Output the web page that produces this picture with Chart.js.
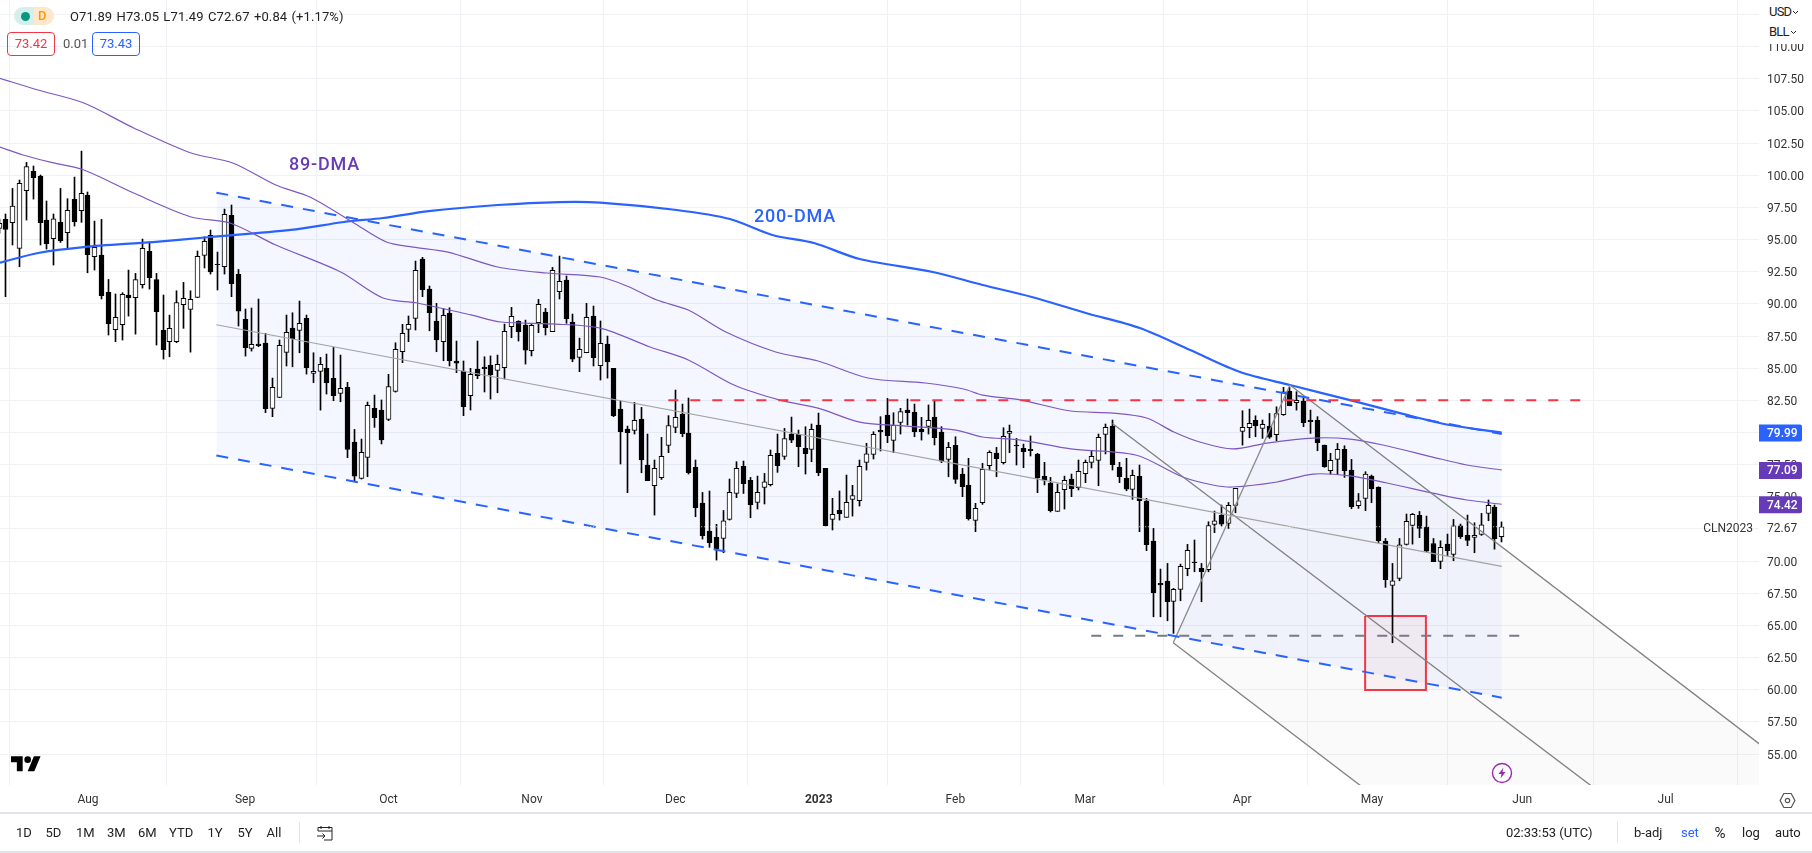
<!DOCTYPE html>
<html><head><meta charset="utf-8">
<script src="https://cdn.jsdelivr.net/npm/chart.js@4"></script>
<style>
html,body{margin:0;padding:0;background:#fff;width:1812px;height:853px;overflow:hidden;font-family:Roboto,sans-serif;color:#131722}
#wrap{position:relative;width:1812px;height:853px}
canvas{position:absolute;left:0;top:0}
.t{position:absolute;white-space:nowrap;font-size:13px;line-height:16px;color:#222}
.sep{position:absolute;background:#e0e3eb;width:1px}
.hl{position:absolute;left:0;width:1812px;height:2px;background:#e0e3eb}
.box{position:absolute;box-sizing:border-box;border-radius:4px;border:1px solid;text-align:center;font-size:13px;line-height:21px}
svg{position:absolute}
</style></head><body><div id="wrap">
<canvas id="c" width="1812" height="853"></canvas>

<div style="position:absolute;left:1759px;top:0;width:53px;height:44px;background:#fff"></div>
<div class="t" style="left:1769px;top:4px;letter-spacing:-.8px">USD</div>
<svg style="left:1792px;top:10px" width="7" height="5" viewBox="0 0 7 5"><path d="M1 1l2.500 2.500L6 1" fill="none" stroke="#222" stroke-width="1"/></svg>
<div class="t" style="left:1769px;top:24px;letter-spacing:-.8px">BLL</div>
<svg style="left:1790px;top:30px" width="7" height="5" viewBox="0 0 7 5"><path d="M1 1l2.500 2.500L6 1" fill="none" stroke="#222" stroke-width="1"/></svg>

<div style="position:absolute;left:14px;top:7px;width:20px;height:18px;background:#d5efeb;border-radius:9px 0 0 9px"></div>
<div style="position:absolute;left:34px;top:7px;width:20px;height:18px;background:#ffe7cc;border-radius:0 9px 9px 0"></div>
<div style="position:absolute;left:21px;top:11.5px;width:9px;height:9px;background:#089981;border-radius:50%"></div>
<div class="t" style="left:38px;top:8px;color:#ff9800;font-weight:500">D</div>
<div class="t" style="left:70px;top:9px;word-spacing:1px;letter-spacing:.1px">O71.89 H73.05 L71.49 C72.67 +0.84 (+1.17%)</div>
<div class="box" style="left:7px;top:32px;width:48px;height:24px;color:#f23645;border-color:#f23645">73.42</div>
<div class="t" style="left:63px;top:36px;color:#555">0.01</div>
<div class="box" style="left:92px;top:32px;width:48px;height:24px;color:#2962ff;border-color:#2962ff">73.43</div>

<div class="t" style="left:289px;top:153px;font-size:18px;line-height:22px;font-weight:500;color:#673ab7;letter-spacing:.8px">89-DMA</div>
<div class="t" style="left:754px;top:205px;font-size:18px;line-height:22px;font-weight:500;color:#2962ff;letter-spacing:.8px">200-DMA</div>

<svg style="left:11px;top:752.7px" width="30" height="23.3" viewBox="0 0 36 28"><path d="M14 22H7V11H0V4h14v18zM28 22h-8l7.5-18h8L28 22z" fill="#000"/><circle cx="20" cy="8" r="4" fill="#000"/></svg>
<svg style="left:1491px;top:762px" width="22" height="22" viewBox="0 0 22 22"><circle cx="11" cy="11" r="9.5" fill="#fff" stroke="#9c27b0" stroke-width="1.4"/><path d="M12.500 5.500 7.500 12h3l-1 4.500 5-6.500h-3z" fill="#9c27b0"/></svg>
<svg style="left:1779px;top:792px" width="17" height="17" viewBox="0 0 17 17"><path d="M4.800 1.500h7.400l3.700 7-3.700 7H4.800l-3.700-7z" fill="none" stroke="#555" stroke-width="1.2"/><circle cx="8.500" cy="8.500" r="2.200" fill="none" stroke="#555" stroke-width="1.2"/></svg>

<div class="hl" style="top:812px"></div>
<div class="hl" style="top:851px"></div>
<div id="toolbar"></div>
<div class="sep" style="left:299px;top:822px;height:21px"></div>
<svg style="left:316px;top:825px" width="18" height="16" viewBox="0 0 18 16"><path d="M2 6V2.500h14V15H8M2 6h14M5 1v3M13 1v3M1 11h8M6.500 8.500 9 11l-2.500 2.500" fill="none" stroke="#222" stroke-width="1"/></svg>
<div class="sep" style="left:1617px;top:822px;height:21px"></div>
</div>
<script>
const open=[95.87,96.57,96.31,94.32,98.80,100.30,99.94,96.52,95.07,96.34,95.53,98.13,97.25,98.44,93.67,93.80,90.89,87.99,88.38,90.69,
90.48,91.49,94.08,91.90,87.94,87.06,87.06,89.94,89.57,90.51,93.77,95.33,93.07,92.89,96.88,92.29,88.79,86.54,86.88,86.95,
81.87,82.73,86.23,88.12,87.94,88.87,84.60,84.75,84.98,84.21,83.04,83.51,79.26,76.43,78.07,81.87,81.75,81.02,83.20,
86.28,88.02,88.87,93.49,91.15,88.67,87.06,89.26,85.56,84.78,82.86,84.93,85.09,85.25,84.83,85.04,88.23,88.64,88.36,86.36,88.54,89.37,87.84,90.95,91.85,88.59,85.84,86.20,89.06,85.19,86.88,
84.99,81.82,80.27,80.17,81.05,77.47,75.86,76.48,79.00,80.40,81.43,79.96,77.29,74.51,72.34,71.84,71.77,73.24,75.26,77.37,76.28,74.57,75.73,75.94,78.38,78.14,
79.88,79.85,78.77,78.69,80.58,77.21,73.24,73.95,73.40,74.80,74.70,77.68,78.30,80.17,81.36,79.39,80.79,81.75,81.59,80.24,80.48,81.20,80.04,77.91,79.00,
76.77,75.92,73.17,74.54,77.42,78.40,77.65,79.93,79.03,78.77,78.69,78.33,76.59,76.07,73.87,75.55,76.38,75.71,76.80,77.68,77.83,79.85,80.50,77.29,76.43,75.58,76.59,74.67,
71.56,68.27,68.45,66.87,67.80,69.41,69.92,69.43,69.33,72.85,73.58,72.93,74.33,80.09,80.37,80.94,80.32,80.50,79.83,81.38,83.20,82.31,82.44,80.97,80.97,79.02,
77.03,77.91,78.69,77.08,74.31,74.88,76.61,75.73,71.56,68.11,68.65,71.30,72.77,73.55,72.67,71.37,69.98,71.32,70.52,72.75,72.00,71.84,72.08,73.71,74.20,71.89];
const high=[96.60,96.99,98.98,99.63,101.00,100.72,100.02,98.00,96.99,98.98,98.18,99.86,101.88,98.70,96.44,96.57,91.90,90.77,90.87,92.63,
92.37,95.04,94.81,92.37,90.69,89.13,91.02,91.67,91.02,94.11,95.22,95.74,94.03,97.37,97.69,92.68,89.60,89.68,90.38,87.71,
84.23,87.19,89.13,89.31,90.22,89.13,86.20,85.84,86.10,86.62,86.02,83.90,80.24,79.49,82.37,82.91,82.53,84.52,86.98,
88.41,89.06,93.33,93.62,91.39,90.04,89.65,89.70,87.11,85.56,84.99,87.11,85.89,85.95,86.02,88.43,89.73,88.69,88.74,88.49,90.35,89.65,92.84,93.72,92.17,89.21,87.34,90.04,89.83,88.67,87.50,
84.99,82.45,80.50,82.34,81.95,79.88,77.86,79.62,81.31,83.30,82.21,82.68,77.86,75.34,75.45,72.86,73.94,76.38,77.73,77.78,76.51,76.61,76.82,78.64,79.88,80.32,
81.20,80.19,80.45,80.66,81.51,77.21,74.88,75.45,76.69,75.89,77.86,79.16,80.06,81.23,82.65,81.54,81.88,82.60,82.21,81.18,82.14,82.47,80.45,79.23,79.67,
77.21,77.99,74.49,77.60,78.58,78.84,80.37,80.58,79.54,79.10,79.73,78.38,77.68,76.51,76.00,76.61,76.77,77.86,77.86,78.56,79.88,80.66,80.97,77.68,77.99,77.08,77.47,74.88,
72.54,69.38,69.82,67.88,69.77,71.30,71.64,69.82,73.06,73.89,74.36,74.56,75.65,81.69,81.82,81.30,80.97,81.48,82.00,83.51,83.51,83.17,82.78,81.74,81.23,79.02,
78.38,79.15,78.97,77.91,75.26,76.95,76.69,75.78,71.76,69.82,71.76,73.66,73.71,73.86,73.50,71.76,71.58,72.10,73.24,72.88,73.58,72.98,73.71,74.75,74.36,73.05];
const low=[95.50,90.56,94.58,92.89,96.52,98.15,94.58,94.26,93.02,94.78,94.37,96.05,96.34,92.42,92.63,90.38,87.58,87.06,87.19,89.05,
87.65,91.23,91.15,86.80,85.71,85.89,86.98,88.10,86.25,90.48,92.79,92.32,91.08,92.32,90.56,88.28,85.94,86.33,86.67,81.54,
81.23,82.70,85.17,85.11,86.20,84.54,83.87,81.74,82.99,82.47,82.39,78.04,76.22,76.38,76.56,80.40,79.11,80.92,83.14,
85.43,87.06,87.97,90.56,87.91,86.28,85.58,85.17,84.65,81.31,81.75,84.18,83.15,82.60,83.09,84.16,87.37,87.11,85.32,85.95,87.76,87.58,87.84,90.38,88.49,85.50,84.73,86.20,85.17,84.08,84.23,
81.23,77.55,75.32,79.88,76.87,76.25,73.58,76.35,78.43,79.98,79.67,76.77,73.45,71.71,71.07,70.08,70.65,73.19,74.93,75.26,73.37,74.05,74.44,75.84,76.90,77.91,
79.21,77.34,76.77,77.73,76.64,72.73,72.42,73.19,73.40,73.50,74.28,77.08,77.94,78.56,79.21,78.43,79.88,80.58,79.67,79.41,79.88,79.03,77.65,76.56,76.04,
75.01,73.19,72.29,74.41,77.08,76.56,77.55,78.43,77.47,77.26,78.17,75.32,75.92,73.82,73.87,74.05,75.01,75.53,76.10,77.24,75.86,78.33,77.08,76.10,75.47,74.80,72.29,70.81,
65.67,65.67,65.36,64.38,66.92,68.86,69.17,66.84,69.17,72.21,72.72,72.54,73.76,79.02,79.59,79.67,79.54,79.54,79.36,81.33,82.08,81.74,80.45,79.93,78.58,77.29,
76.77,76.74,76.51,74.07,74.10,73.92,74.54,71.43,67.96,63.65,68.47,71.25,71.32,71.82,70.73,69.95,69.41,70.42,70.03,71.76,71.20,70.65,72.00,73.14,70.93,71.49];
const close=[96.26,95.79,97.61,99.37,100.67,99.81,96.31,94.68,96.62,94.89,97.27,96.39,98.59,93.82,94.39,90.64,88.46,88.95,90.74,90.48,
91.90,94.32,92.03,89.39,86.44,88.10,90.11,90.43,90.35,93.70,94.86,92.48,93.05,96.96,91.57,89.44,86.59,86.85,86.75,81.85,
83.51,86.77,87.78,87.29,88.48,85.04,84.75,85.30,83.87,82.86,83.43,78.69,76.61,78.46,82.11,81.15,79.42,83.58,86.46,
87.71,88.41,92.61,91.08,89.31,87.19,89.11,85.58,85.40,82.00,84.52,84.41,84.96,84.47,85.30,87.86,89.03,87.84,86.41,88.33,89.96,88.15,92.61,91.75,88.85,85.71,86.46,88.95,85.81,86.93,85.48,
81.31,80.06,79.98,80.94,77.86,76.25,77.21,78.14,80.53,81.18,79.91,76.87,74.15,71.97,71.43,70.94,73.14,75.34,77.21,76.02,74.38,75.34,76.17,78.22,77.42,79.52,
79.41,78.90,78.35,80.24,76.87,72.75,73.63,73.69,74.57,75.09,77.37,78.35,79.85,80.04,79.75,80.55,81.62,81.54,80.06,80.06,80.94,79.60,77.78,78.84,76.36,
75.79,73.30,74.10,77.13,78.46,77.96,79.70,80.09,78.95,78.51,78.59,76.46,76.30,73.92,75.35,76.28,75.63,76.98,77.68,78.14,79.62,80.40,77.50,76.56,75.60,76.67,74.70,71.28,
67.54,68.14,66.84,67.80,69.59,70.83,69.87,69.17,72.77,73.14,72.88,74.33,75.65,80.40,80.71,80.53,80.63,79.64,81.48,83.17,82.08,82.50,80.76,80.84,79.20,77.34,
77.83,78.69,77.03,74.23,74.69,76.77,75.63,71.58,68.55,68.47,71.27,73.09,73.63,72.54,70.78,69.95,71.07,70.81,72.75,71.89,71.61,72.00,72.83,74.33,71.74,72.67];

const ma200Idx=[0.1,5.7,12.4,22.5,30.9,42.7,50.5,56.2,62.9,73,82,88,99.2,107,113.2,119.3,126,136.7,144,151.2,159.1,167,174.4,181.7,189,197.8,205.1,212.4,220];
const ma200Val=[93.2,93.96,94.42,94.81,95.2,95.75,96.37,96.68,97.22,97.69,97.92,97.88,97.3,96.6,95.36,94.73,93.49,92.48,91.47,90.54,89.29,88.12,86.41,84.7,83.69,82.52,81.51,80.58,79.99];
const upperPurpleIdx=[0.1,5.7,12.4,19.7,28.1,34.2,40.5,45.5,51.7,56.7,60.6,65.7,73,80.2,88,91.9,96.3,100.9,106.4,113.7,119.9,127.2,135.6,141.2,144,149.6,156.9,163.1,168,172,175.8,180.6,185.6,192.4,197.8,202.6,209.9,214.9,220];
const upperPurpleVal=[107.54,106.63,105.62,103.68,101.73,100.96,99.24,98.31,96.37,94.81,94.42,94.03,92.87,92.4,92.09,91.39,90.3,89.52,87.81,86.26,85.56,84.24,83.85,83.38,82.91,82.52,81.67,81.51,81.13,80.04,79.26,78.72,79.18,79.57,79.49,79.03,78.09,77.47,77.09];
const lowerPurpleIdx=[0.1,3.5,8,12.4,19.7,28.1,33.8,40.5,50,56.2,61.2,69.1,73.5,80.8,88,95.3,100.9,107.6,114.3,119.9,126,132.8,140.1,144,149.6,156.9,166.4,173.3,177.7,180.6,187.1,192.4,197.8,203.2,209.9,214.9,220];
const lowerPurpleVal=[102.2,101.58,100.96,100.41,98.62,96.76,96.29,94.58,92.48,90.46,90.07,89.14,88.59,88.44,88.12,86.65,85.64,83.69,82.52,81.9,80.81,80.5,80.19,79.65,79.41,78.72,78.25,76.54,75.92,75.76,76.15,76.77,76.62,76.07,75.29,74.75,74.42];

const channelIdx=[31.8,220];
const channelUpper=[98.65,79.88];
const channelMiddle=[88.38,69.59];
const channelLower=[78.21,59.38];
const resistanceIdx=[97.97,231.5], resistanceVal=[82.5,82.5];
const supportIdx=[159.9,222.7], supportVal=[64.2,64.2];
const forkShapeIdx=[171.9,189,263.7,263.7], forkShapeVal=[63.65,83.69,53.36,26.46];
const forkHandleIdx=[171.9,189], forkHandleVal=[63.65,83.69];
const forkUpperIdx=[189,263.7], forkUpperVal=[83.69,53.36];
const forkLowerIdx=[171.9,263.7], forkLowerVal=[63.65,26.46];
const forkMiddleIdx=[163,263.7], forkMiddleVal=[80.7,40.23];
const boxIdx=[200,200,208.9,208.9,200], boxVal=[65.73,59.98,59.98,65.73,65.73];
const lastPrice=72.67;

const monthIdx=[13,36,57,78,99,120,140,159,182,201,223,244];
const monthLabels=['Aug','Sep','Oct','Nov','Dec','2023','Feb','Mar','Apr','May','Jun','Jul'];
const priceTicks=[55,57.5,60,62.5,65,67.5,70,72.5,75,77.5,80,82.5,85,87.5,90,92.5,95,97.5,100,102.5,105,107.5,110,112.5];
const hiddenPriceTicks=[72.5,80];
const tags=[[79.99,'#2962ff'],[77.09,'#673ab7'],[74.42,'#673ab7']];
const rangeButtons=[['1D',16],['5D',45.5],['1M',76],['3M',107],['6M',138],['YTD',169],['1Y',207.5],['5Y',237.5],['All',266.5]];
const rightButtons=[['02:33:53 (UTC)',1506,'#222'],['b-adj',1634,'#222'],['set',1681,'#2962ff'],['%',1714.5,'#222'],['log',1742,'#222'],['auto',1775,'#222']];

const tb=document.getElementById('toolbar');
rangeButtons.concat(rightButtons).forEach(b=>{const d=document.createElement('div');d.className='t';d.textContent=b[0];d.style.left=b[1]+'px';d.style.top='825px';if(b[2])d.style.color=b[2];if(b[0]==='%')d.style.fontSize='15px';tb.appendChild(d);});

const pts=(xs,ys)=>xs.map((x,i)=>({x,y:ys[i]}));
const line=(xs,ys,color,width,extra)=>Object.assign({type:'line',data:pts(xs,ys),borderColor:color,borderWidth:width,pointRadius:0,fill:false,tension:0,order:2},extra||{});
const noPad=a=>{a.paddingTop=0;a.paddingBottom=0;a.paddingLeft=0;a.paddingRight=0;};

const snapBars={id:'snapBars',afterDatasetsUpdate(chart){
  chart.data.datasets.forEach((d,i)=>{ if(d.type!=='bar')return;
    chart.getDatasetMeta(i).data.forEach(el=>{el.x=Math.round(el.x-0.5)+0.5;});
  });
}};
const axisExtras={id:'axisExtras',afterDraw(chart){
  const c=chart.ctx,y=chart.scales.y,r=chart.chartArea.right;
  c.save();c.textBaseline='middle';
  c.font='12px Roboto';c.textAlign='left';c.fillStyle='#333';
  c.fillText(lastPrice.toFixed(2),1767,y.getPixelForValue(lastPrice)+2);
  c.textAlign='right';c.fillText('CLN2023',1753,y.getPixelForValue(lastPrice)+2);
  c.textAlign='left';c.font='500 12px Roboto';
  tags.forEach(([v,col])=>{const py=y.getPixelForValue(v);c.fillStyle=col;c.beginPath();c.roundRect(r,py-8,43,17,[0,2,2,0]);c.fill();c.fillStyle='#fff';c.fillText(v.toFixed(2),1767,py+1.5);});
  c.restore();
}};

new Chart(document.getElementById('c'),{
  data:{datasets:[
    line(channelIdx,channelUpper,'transparent',0,{fill:'+1',backgroundColor:'rgba(41,98,255,0.05)',order:10}),
    line(channelIdx,channelLower,'transparent',0,{order:10}),
    line(forkShapeIdx.concat(forkShapeIdx[0]),forkShapeVal.concat(forkShapeVal[0]),'transparent',0,{fill:'shape',backgroundColor:'rgba(120,123,134,0.04)',order:9}),
    line(boxIdx,boxVal,'#f23645',2,{fill:'shape',backgroundColor:'rgba(242,54,69,0.05)',order:8}),
    {type:'bar',data:open.map((o,i)=>({x:i,y:[low[i],high[i]]})),backgroundColor:'#000',barThickness:1,grouped:false,order:6,borderWidth:0},
    {type:'bar',data:open.map((o,i)=>({x:i,y:[o,close[i]]})),barThickness:5,grouped:false,order:5,borderColor:'#000',borderWidth:1,borderSkipped:false,
      backgroundColor:ctx=>close[ctx.dataIndex]>=open[ctx.dataIndex]?'#fff':'#000'},
    line(upperPurpleIdx,upperPurpleVal,'#7e57c2',1.2,{tension:0.3,order:3}),
    line(lowerPurpleIdx,lowerPurpleVal,'#7e57c2',1.2,{tension:0.3,order:3}),
    line(ma200Idx,ma200Val,'#2962ff',2.2,{tension:0.3,order:3}),
    line(channelIdx,channelUpper,'#2962ff',2,{borderDash:[12,10]}),
    line(channelIdx,channelLower,'#2962ff',2,{borderDash:[12,10]}),
    line(channelIdx,channelMiddle,'#a3a3a3',1.2),
    line(resistanceIdx,resistanceVal,'#f23645',2,{borderDash:[10,12]}),
    line(supportIdx,supportVal,'#787b86',2,{borderDash:[10,12]}),
    line(forkHandleIdx,forkHandleVal,'#8a8a8a',1.3),
    line(forkUpperIdx,forkUpperVal,'#808080',1.3),
    line(forkLowerIdx,forkLowerVal,'#808080',1.3),
    line(forkMiddleIdx,forkMiddleVal,'#808080',1.3),
    line([0,257.7],[lastPrice,lastPrice],'rgba(255,255,255,0.85)',1,{borderDash:[1,2],order:1})
  ]},
  plugins:[snapBars,axisExtras],
  options:{
    responsive:false,animation:false,devicePixelRatio:1,
    layout:{autoPadding:false,padding:{left:0,right:0,top:0,bottom:40}},
    plugins:{legend:{display:false},tooltip:{enabled:false}},
    events:[],
    scales:{
      x:{type:'linear',min:0.1215,max:257.67,offset:false,
        afterBuildTicks(a){a.ticks=monthIdx.map(v=>({value:v}));},
        afterFit(a){a.height=28;noPad(a);},
        grid:{color:'#eff1f5',drawTicks:false},border:{display:false},
        ticks:{autoSkip:false,maxRotation:0,padding:8,color:'#333',
          font:ctx=>({family:'Roboto',size:12,weight:ctx.tick&&ctx.tick.value===120?'700':'400'}),
          callback:v=>monthLabels[monthIdx.indexOf(v)]}
      },
      y:{type:'linear',position:'right',min:52.59,max:113.63,
        afterBuildTicks(a){a.ticks=priceTicks.map(v=>({value:v}));},
        afterFit(a){a.width=53;noPad(a);
          if(!a._shifted){const f=a._computeLabelItems.bind(a);
            a._computeLabelItems=ca=>{const items=f(ca);items.forEach(it=>{const t=it.options.translation;it.options.translation=[t[0],t[1]+1.5];});return items;};
            a._shifted=true;}
        },
        grid:{color:'#eff1f5',drawTicks:false},border:{display:false},
        ticks:{autoSkip:false,padding:8,color:'#333',font:{family:'Roboto',size:12},
          callback:v=>hiddenPriceTicks.includes(v)?'':v.toFixed(2)}
      }
    }
  }
});
</script></body></html>
